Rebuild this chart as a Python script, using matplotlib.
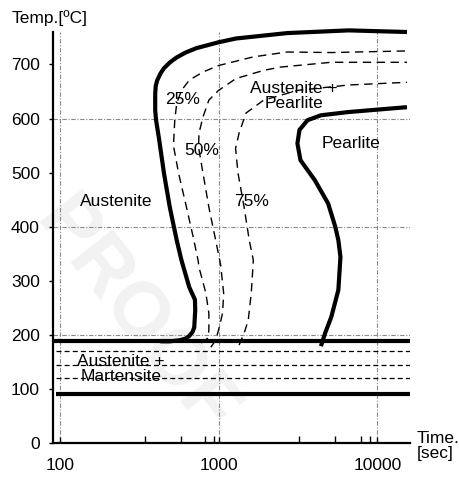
import matplotlib
matplotlib.use('Agg')
import matplotlib.pyplot as plt

plt.rcParams['font.family'] = ['Liberation Sans', 'DejaVu Sans']
plt.rcParams['font.size'] = 12.5

# transformation start curve (thick, left)
start_t = [430, 493, 569, 620, 654, 685, 703, 713, 710, 654, 584, 545, 493, 453, 423, 404,
           399, 399, 402, 410, 430, 453, 495, 545, 620, 723, 1000, 1288, 2706, 6590, 15380]
start_T = [188, 188, 190, 193, 198, 205, 214, 246, 265, 288, 338, 375, 436, 499, 560, 597,
           615, 646, 660, 670, 683, 693, 704, 713, 722, 730, 741, 748, 758, 763, 760]

# 25 %, 50 %, 75 % lines (dashed)
p25_t = [776, 857, 869, 869, 832, 753, 743, 692, 628, 560, 522, 522, 530, 545, 584, 654,
         798, 1000, 1656, 2706, 5130, 15380]
p25_T = [185, 194, 209, 240, 277, 325, 338, 381, 436, 499, 547, 560, 597, 628, 652, 671,
         686, 698, 714, 723, 722, 725]

p50_t = [893, 959, 1000, 1060, 1077, 1030, 959, 869, 798, 748, 753, 798, 869, 1000, 1288,
         1923, 2437, 5130, 15380]
p50_T = [177, 190, 209, 240, 277, 330, 375, 436, 499, 547, 573, 603, 634, 652, 674,
         689, 695, 704, 704]

p75_t = [1347, 1449, 1538, 1607, 1656, 1561, 1449, 1326, 1280, 1347, 1488, 1923, 3139,
         6590, 15380]
p75_T = [181, 203, 227, 277, 338, 375, 436, 499, 545, 573, 610, 634, 652, 662, 667]

# transformation finish curve (thick, right)
finish_t = [4415, 4690, 5130, 5685, 5860, 5685, 5435, 4900, 4040, 3281, 3139, 3235, 3640,
            4415, 6590, 15380]
finish_T = [179, 203, 233, 283, 344, 375, 400, 443, 486, 523, 554, 579, 597, 606, 612, 621]

# martensite lines
ms_temp = 188
mf_temp = 90
mart_levels = [170, 145, 120]

yticks = [0, 100, 200, 300, 400, 500, 600, 700]
xticks = [100, 1000, 10000]
xtick_labels = ['100', '1000', '10000']
xminor = [345, 580, 820, 930, 3200, 5400, 7900, 9000]

fig = plt.figure(figsize=(4.6, 4.8), dpi=100)
ax = fig.add_axes([53 / 460, 37 / 480, 357 / 460, 411 / 480])

# faint watermark behind the axes
fig.text(135 / 460, 1 - 318 / 480, 'PROOF', fontsize=56, fontweight='bold', color='#f2f2f2',
         rotation=-52, ha='center', va='center', zorder=-5)
ax.set_facecolor('none')

ax.set_xscale('log')
ax.set_xlim(90.6, 16070)
ax.set_ylim(0, 760)

# grid
gstyle = dict(color='#8a8a8a', lw=0.8, linestyle=(0, (4, 1.5, 1, 1.5)), zorder=1)
for x in xticks:
    ax.axvline(x, **gstyle)
for y in [200, 400, 600]:
    ax.axhline(y, **gstyle)

ax.plot(start_t, start_T, color='black', lw=3, solid_capstyle='butt', zorder=3, clip_on=False)
ax.plot(finish_t, finish_T, color='black', lw=3, solid_capstyle='butt', zorder=3, clip_on=False)
for tt, TT in [(p25_t, p25_T), (p50_t, p50_T), (p75_t, p75_T)]:
    ax.plot(tt, TT, color='black', lw=1.0, dashes=(6, 4), zorder=3)

ax.axhline(ms_temp, color='black', lw=3, zorder=3)
ax.hlines(mf_temp, 95, 16070, color='black', lw=3, zorder=3)
for y in mart_levels:
    ax.hlines(y, 95, 16070, color='black', lw=0.9, linestyles=(0, (4, 2.5)), zorder=3)

# region labels
ax.text(227, 447, 'Austenite', ha='center', va='center')
ax.text(594, 636, '25%', ha='center', va='center')
ax.text(787, 541, '50%', ha='center', va='center')
ax.text(1608, 446, '75%', ha='center', va='center')
ax.text(3000, 642, 'Austenite +\nPearlite', ha='center', va='center', linespacing=1.05)
ax.text(6790, 554, 'Pearlite', ha='center', va='center')
ax.text(243, 137, 'Austenite +\nMartensite', ha='center', va='center', linespacing=0.95)

# axes styling
for s in ['top', 'right']:
    ax.spines[s].set_visible(False)
for s in ['left', 'bottom']:
    ax.spines[s].set_linewidth(1.6)
ax.set_yticks(yticks)
ax.set_xticks(xticks, labels=xtick_labels)
ax.set_xticks(xminor, minor=True)
ax.xaxis.set_minor_formatter(matplotlib.ticker.NullFormatter())
ax.tick_params(axis='y', direction='out', length=3, width=1, pad=6.5, labelsize=12.5)
ax.tick_params(axis='x', which='major', direction='in', length=4, width=1, pad=11, labelsize=12.5)
ax.tick_params(axis='x', which='minor', direction='in', length=5, width=1)

fig.text(12 / 460, 1 - 18 / 480, 'Temp.[ºC]', ha='left', va='center', fontsize=12.5)
fig.text(417 / 460, 1 - 446 / 480, 'Time.\n[sec]', ha='left', va='center', fontsize=12.5,
         linespacing=1.0)

fig.savefig('out.png', dpi=100)
